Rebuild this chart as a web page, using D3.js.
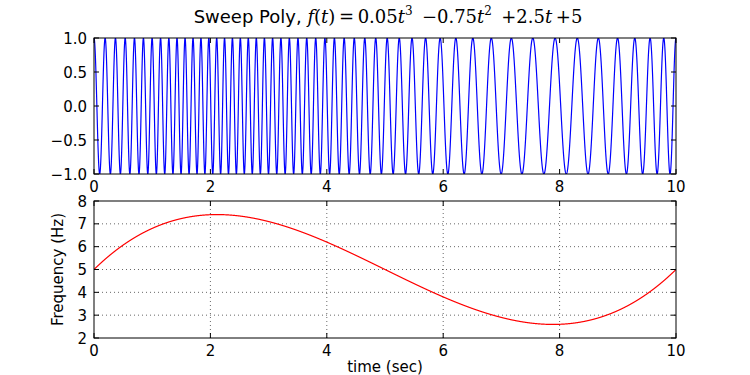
<!DOCTYPE html>
<html>
<head>
<meta charset="utf-8">
<script src="https://cdn.jsdelivr.net/npm/d3@7"></script>
<style>
  body { margin: 0; background: #fff; }
  text { font-family: "DejaVu Sans", sans-serif; }
</style>
</head>
<body>
<div id="chart"></div>
<script>
// polynomial coefficients as printed in the title (t^3, t^2, t, 1)
const polyCoeffs = [0.05, -0.75, 2.5, 5]
const timeRange = [0, 10]
const sampleCount = 5001
const xTicks = [0, 2, 4, 6, 8, 10]
const sigTicks = [-1.0, -0.5, 0.0, 0.5, 1.0]
const freqTicks = [2, 3, 4, 5, 6, 7, 8]

const width = 750, height = 375
const left = 94, right = 676
const top1 = 38, bot1 = 174
const top2 = 201, bot2 = 338
const fs = 15

const svg = d3.select("#chart").append("svg")
  .attr("width", width).attr("height", height)

// sampled signal built from the polynomial
const polyval = t => polyCoeffs.reduce((acc, c) => acc * t + c, 0)
const n = polyCoeffs.length
const polyint = t => polyCoeffs.reduce((acc, c, i) => acc * t + c / (n - i), 0) * t
const times = d3.range(sampleCount).map(i => timeRange[0] + i * (timeRange[1] - timeRange[0]) / (sampleCount - 1))
const signal = times.map(t => ({t, v: Math.cos(2 * Math.PI * polyint(t))}))
const freq = times.map(t => ({t, v: polyval(t)}))

const x = d3.scaleLinear().domain(timeRange).range([left, right])
const y1 = d3.scaleLinear().domain([-1, 1]).range([bot1, top1])
const y2 = d3.scaleLinear().domain([2, 8]).range([bot2, top2])

function panel(yScale, yTickVals, yFmt, yTop, yBot, data, color, grid) {
  const g = svg.append("g")
  const clipId = "clip" + yTop
  svg.append("clipPath").attr("id", clipId).append("rect")
    .attr("x", left).attr("y", yTop).attr("width", right - left).attr("height", yBot - yTop)

  if (grid) {
    g.selectAll(".gx").data(xTicks.slice(1, -1)).enter().append("line")
      .attr("x1", d => x(d)).attr("x2", d => x(d))
      .attr("y1", yTop).attr("y2", yBot)
      .attr("stroke", "#000").attr("stroke-width", 0.6).attr("stroke-dasharray", "1,3")
    g.selectAll(".gy").data(yTickVals.slice(1, -1)).enter().append("line")
      .attr("y1", d => yScale(d)).attr("y2", d => yScale(d))
      .attr("x1", left).attr("x2", right)
      .attr("stroke", "#000").attr("stroke-width", 0.6).attr("stroke-dasharray", "1,3")
  }

  g.append("path").datum(data)
    .attr("clip-path", `url(#${clipId})`)
    .attr("fill", "none").attr("stroke", color).attr("stroke-width", 1.2)
    .attr("d", d3.line().x(d => x(d.t)).y(d => yScale(d.v)))

  // inward ticks on all sides
  const tl = 5
  xTicks.forEach(v => {
    g.append("line").attr("x1", x(v)).attr("x2", x(v)).attr("y1", yBot).attr("y2", yBot - tl).attr("stroke", "#000")
    g.append("line").attr("x1", x(v)).attr("x2", x(v)).attr("y1", yTop).attr("y2", yTop + tl).attr("stroke", "#000")
    g.append("text").attr("x", x(v)).attr("y", yBot + 18).attr("text-anchor", "middle")
      .attr("font-size", fs).text(v)
  })
  yTickVals.forEach(v => {
    g.append("line").attr("y1", yScale(v)).attr("y2", yScale(v)).attr("x1", left).attr("x2", left + tl).attr("stroke", "#000")
    g.append("line").attr("y1", yScale(v)).attr("y2", yScale(v)).attr("x1", right).attr("x2", right - tl).attr("stroke", "#000")
    g.append("text").attr("x", left - 7).attr("y", yScale(v) + 5.5).attr("text-anchor", "end")
      .attr("font-size", fs).text(yFmt(v))
  })

  g.append("rect").attr("x", left).attr("y", yTop).attr("width", right - left).attr("height", yBot - yTop)
    .attr("fill", "none").attr("stroke", "#000").attr("stroke-width", 1)
}

panel(y1, sigTicks, v => d3.format(".1f")(v).replace("-", "\u2212"), top1, bot1, signal, "#0000ff", false)
panel(y2, freqTicks, v => v, top2, bot2, freq, "#ff0000", true)

svg.append("text").attr("x", (left + right) / 2).attr("y", bot2 + 34)
  .attr("text-anchor", "middle").attr("font-size", fs).text("time (sec)")
svg.append("text")
  .attr("transform", `translate(${left - 31},${(top2 + bot2) / 2}) rotate(-90)`)
  .attr("text-anchor", "middle").attr("font-size", fs).text("Frequency (Hz)")

// title with math part
const title = svg.append("text").attr("x", (left + right) / 2 + 3).attr("y", 23)
  .attr("text-anchor", "middle").attr("font-size", 18)
title.append("tspan").text("Sweep Poly, ")
let shift = 0
const m = (txt, it) => {
  title.append("tspan").attr("dy", -shift)
    .attr("font-family", "'DejaVu Serif', serif").attr("font-style", it ? "italic" : "normal").text(txt)
  shift = 0
}
const sup = txt => {
  title.append("tspan").attr("font-family", "'DejaVu Serif', serif")
    .attr("font-size", 12).attr("dy", -8).text(txt)
  shift = -8
}
m("f", true); m("(", false); m("t", true); m(")\u2009=\u20090.05", false); m("t", true); sup("3")
m(" \u2009\u22120.75", false); m("t", true); sup("2")
m(" \u2009+2.5", false); m("t", true); m("\u2009+5", false)
</script>
</body>
</html>
